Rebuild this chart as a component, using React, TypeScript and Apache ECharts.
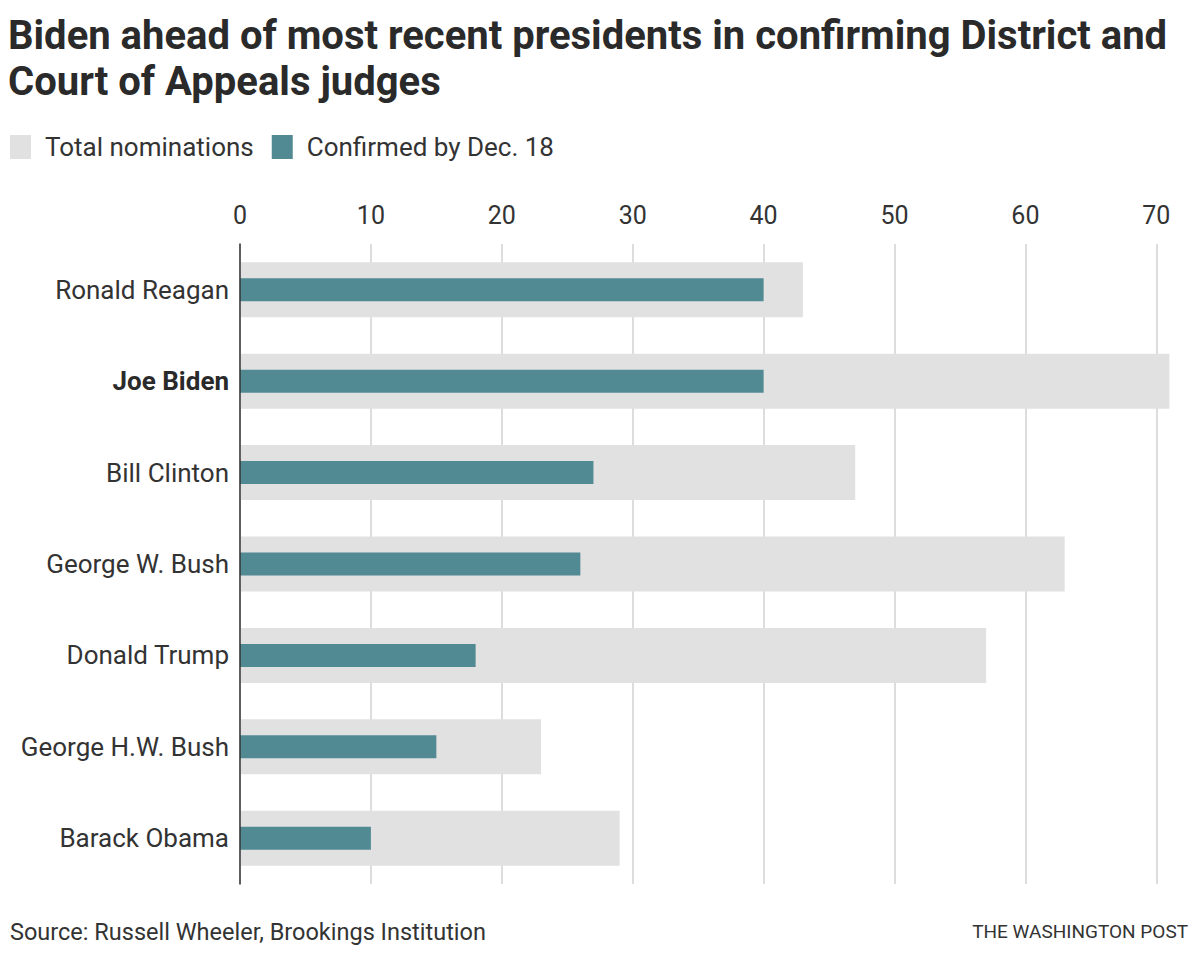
import React, { useEffect, useRef } from "react";
import * as echarts from "echarts";

const presidents = [
  "Ronald Reagan",
  "Joe Biden",
  "Bill Clinton",
  "George W. Bush",
  "Donald Trump",
  "George H.W. Bush",
  "Barack Obama",
];
const totalNominations = [43, 71, 47, 63, 57, 23, 29];
const confirmed = [40, 40, 27, 26, 18, 15, 10];
const seriesNames = ["Total nominations", "Confirmed by Dec. 18"];
const highlighted = "Joe Biden";

const FONT = "Roboto, 'Noto Sans', sans-serif";

export default function App() {
  const ref = useRef<HTMLDivElement>(null);

  useEffect(() => {
    document.body.style.margin = "0";
    if (!ref.current) return;
    const chart = echarts.init(ref.current, undefined, { renderer: "svg" });
    chart.setOption({
      animation: false,
      backgroundColor: "#ffffff",
      textStyle: { fontFamily: FONT },
      title: {
        text: "Biden ahead of most recent presidents in confirming District and\nCourt of Appeals judges",
        left: 8,
        top: 12,
        padding: 0,
        textStyle: {
          fontFamily: FONT,
          fontSize: 40,
          fontWeight: 700,
          color: "#2a2a2a",
          lineHeight: 46,
        },
      },
      legend: {
        left: 10,
        top: 134,
        padding: 0,
        itemWidth: 21,
        itemHeight: 24,
        itemGap: 18,
        icon: "rect",
        selectedMode: false,
        data: seriesNames,
        textStyle: {
          fontFamily: FONT,
          fontSize: 26,
          color: "#333333",
          padding: [0, 0, 0, 9],
        },
      },
      grid: { left: 240, top: 244, right: 17.5, height: 640 },
      xAxis: {
        type: "value",
        position: "top",
        min: 0,
        max: 72,
        interval: 10,
        axisLine: { show: false },
        axisTick: { show: false },
        axisLabel: {
          fontFamily: FONT,
          fontSize: 25,
          color: "#333333",
          margin: 16,
          showMaxLabel: false,
        },
        splitLine: {
          show: true,
          showMaxLine: false,
          lineStyle: { color: "#dddddd", width: 2 },
        },
      },
      yAxis: [
        {
          type: "category",
          data: presidents,
          inverse: true,
          axisTick: { show: false },
          axisLine: { show: true, lineStyle: { color: "#333333", width: 1.5 } },
          axisLabel: {
            fontFamily: FONT,
            fontSize: 26,
            color: "#333333",
            margin: 11,
            formatter: (v: string) => (v === highlighted ? `{b|${v}}` : v),
            rich: {
              b: {
                fontFamily: FONT,
                fontSize: 26,
                fontWeight: 700,
                color: "#2a2a2a",
              },
            },
          },
          z: 5,
        },
        {
          type: "category",
          data: presidents,
          inverse: true,
          show: false,
        },
      ],
      series: [
        {
          name: seriesNames[0],
          type: "bar",
          yAxisIndex: 0,
          data: totalNominations,
          barWidth: 55,
          itemStyle: { color: "#e1e1e1" },
          z: 2,
        },
        {
          name: seriesNames[1],
          type: "bar",
          yAxisIndex: 1,
          data: confirmed,
          barWidth: 23,
          itemStyle: { color: "#528a93" },
          z: 3,
        },
      ],
      graphic: [
        {
          type: "text",
          left: 10,
          top: 920,
          style: {
            text: "Source: Russell Wheeler, Brookings Institution",
            fontFamily: FONT,
            fontSize: 23.5,
            fill: "#333333",
          },
        },
        {
          type: "text",
          right: 12,
          top: 922,
          style: {
            text: "THE WASHINGTON POST",
            fontFamily: FONT,
            fontSize: 19,
            fill: "#333333",
          },
        },
      ],
    });
    return () => chart.dispose();
  }, []);

  return <div ref={ref} style={{ width: 1200, height: 958 }} />;
}
